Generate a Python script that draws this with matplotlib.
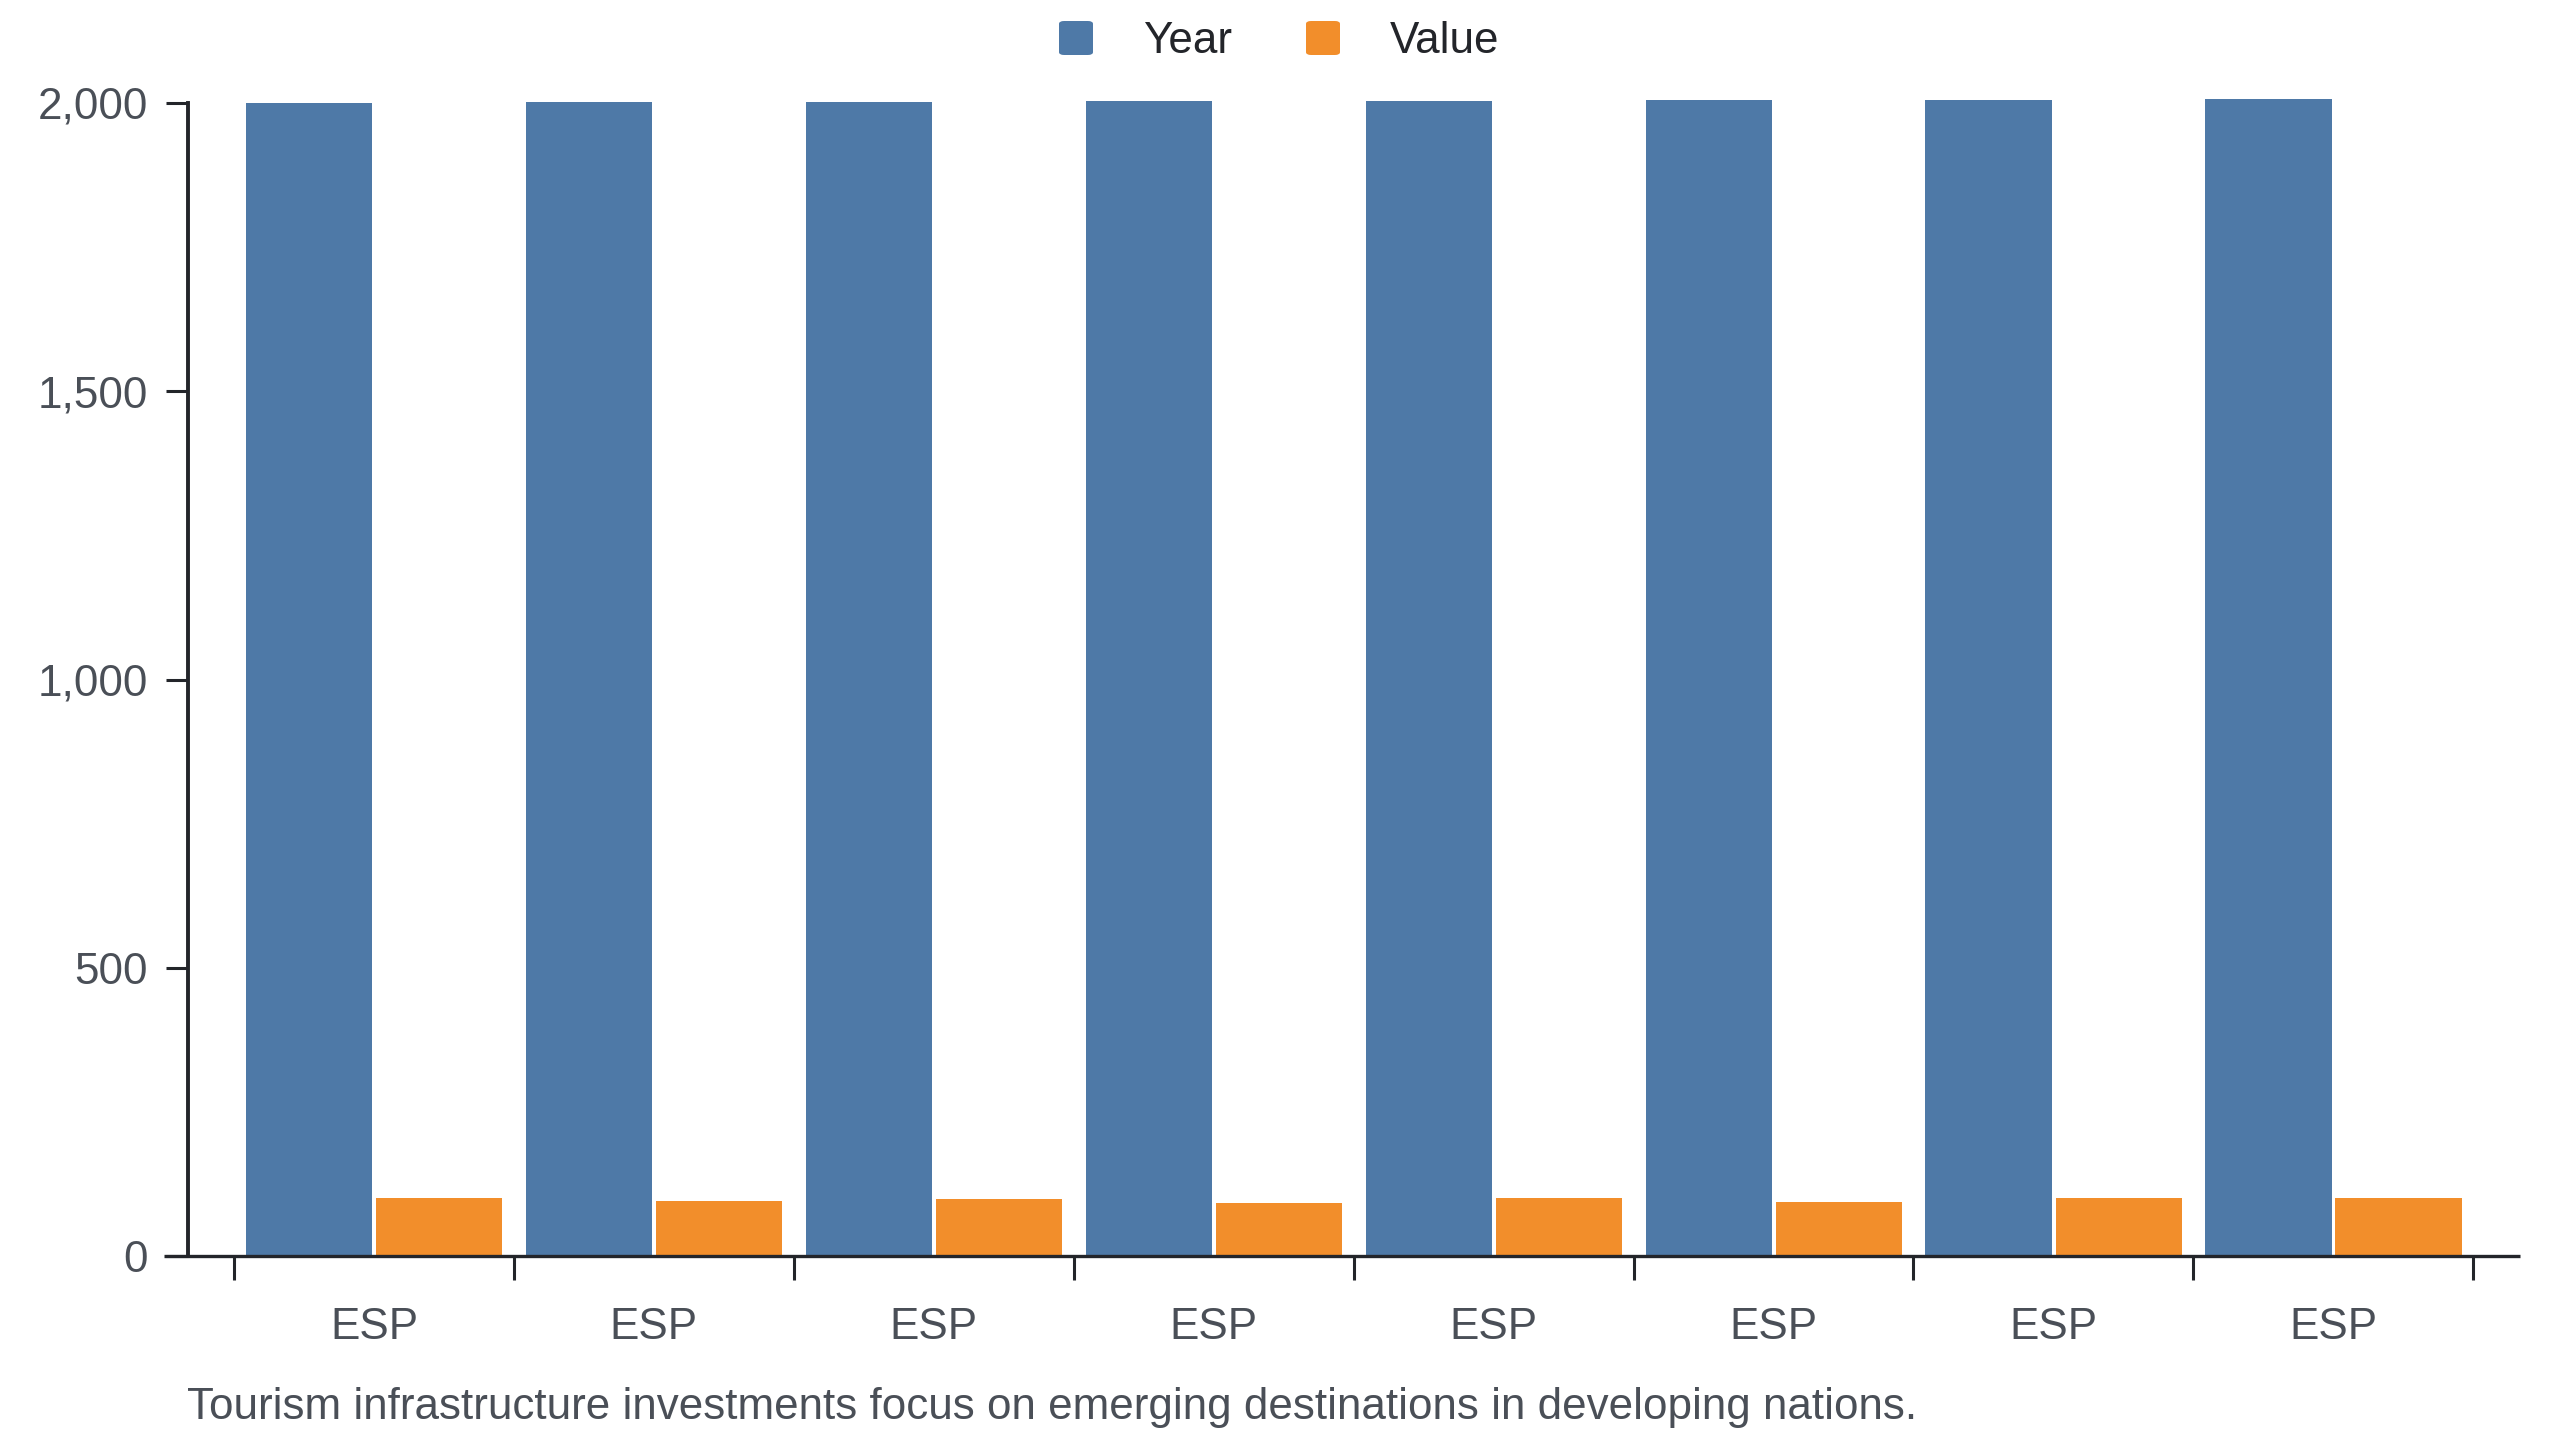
import numpy as np
import matplotlib.pyplot as plt
from matplotlib.patches import FancyBboxPatch
from matplotlib.ticker import FuncFormatter

plt.rcParams['font.family'] = ['Liberation Sans', 'DejaVu Sans']

# data
categories = ["ESP", "ESP", "ESP", "ESP", "ESP", "ESP", "ESP", "ESP"]
year = [2000, 2001, 2002, 2003, 2004, 2005, 2006, 2007]
value = [100, 96, 99, 92, 100, 93, 100, 101]
series_names = ["Year", "Value"]
colors = ["#4e79a7", "#f28e2b"]
caption = "Tourism infrastructure investments focus on emerging destinations in developing nations."

W, H = 2560, 1440
FS = 31.7
fig = plt.figure(figsize=(25.6, 14.4), dpi=100)

# axes in pixel coords
x0, x1 = 164, 2520
y_top, y_bot = 103, 1256
ax = fig.add_axes([x0 / W, 1 - y_bot / H, (x1 - x0) / W, (y_bot - y_top) / H])

band_px = 279.9
first_tick = 234
ax.set_xlim((x0 - first_tick) / band_px, (x1 - first_tick) / band_px)
ax.set_ylim(0, 2000)

n = len(categories)
idx = np.arange(n)
bw = 0.451
ax.bar(idx + 0.2686, year, width=bw, color=colors[0], clip_on=False, zorder=2)
ax.bar(idx + 0.7334, value, width=bw, color=colors[1], clip_on=False, zorder=2)

dark = "#23252a"
label_col = "#4a4f57"

for s in ["top", "right"]:
    ax.spines[s].set_visible(False)
ax.spines["left"].set_position(("data", (188 - first_tick) / band_px))
ax.spines["left"].set_linewidth(2.8)
ax.spines["left"].set_color(dark)
ax.spines["bottom"].set_linewidth(2.4)
ax.spines["bottom"].set_color(dark)
ax.spines["bottom"].set_capstyle("butt")

ax.set_yticks([0, 500, 1000, 1500, 2000])
ax.yaxis.set_major_formatter(FuncFormatter(lambda v, p: f"{int(v):,}"))
ax.tick_params(axis="y", length=16, width=2.2, color=dark, pad=13,
               labelsize=FS, labelcolor=label_col)

ax.set_xticks(np.arange(n + 1))
ax.set_xticklabels([])
ax.set_xticks(idx + 0.5, minor=True)
ax.set_xticklabels(categories, minor=True)
ax.tick_params(axis="x", which="major", length=17, width=2.2, color=dark)
ax.tick_params(axis="x", which="minor", length=0, pad=37,
               labelsize=FS, labelcolor=label_col)

# caption
fig.text(187 / W, 1 - 1419 / H, caption, fontsize=FS, color=label_col,
         ha="left", va="baseline")

# legend
legend_x = [1059, 1306]
text_x = [1143, 1390]
for name, c, lx, tx in zip(series_names, colors, legend_x, text_x):
    box = FancyBboxPatch((lx / W, 1 - 55 / H), 34 / W, 34 / H,
                         boxstyle="round,pad=0,rounding_size=0.002",
                         transform=fig.transFigure, facecolor=c,
                         edgecolor="none")
    fig.patches.append(box)
    fig.text(tx / W, 1 - 53 / H, name, fontsize=FS, color=dark,
             ha="left", va="baseline")

fig.savefig("out.png", dpi=100, facecolor="white")
